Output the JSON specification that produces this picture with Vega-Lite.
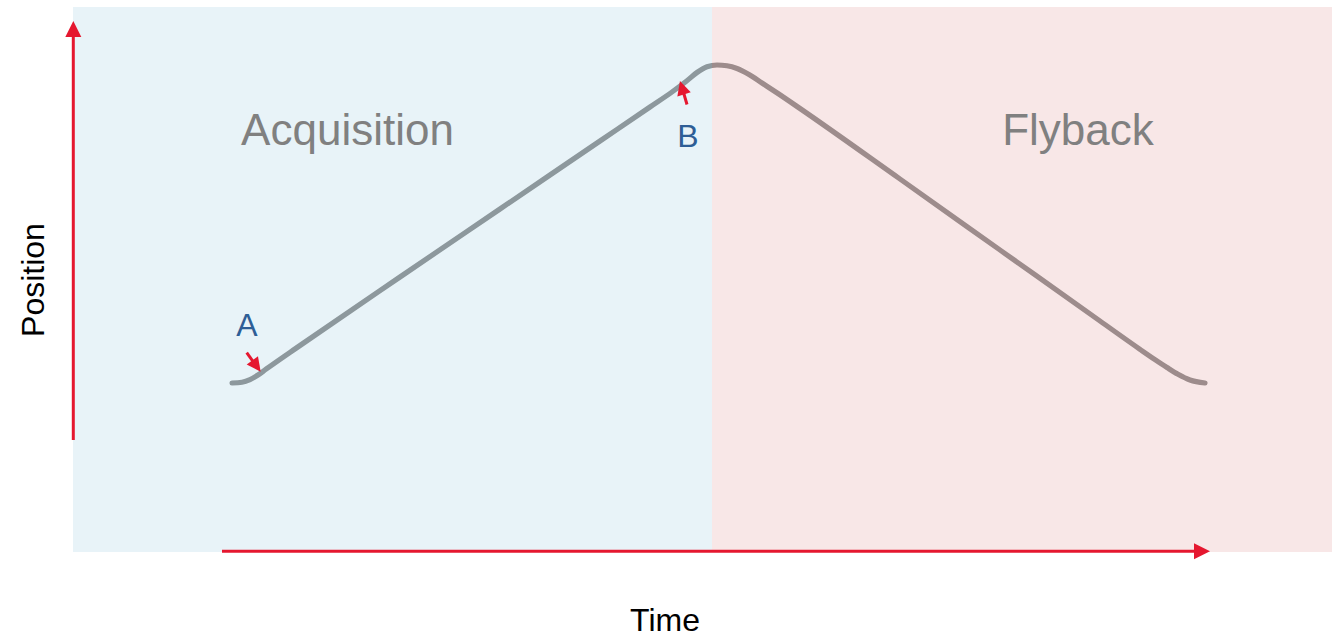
{
  "$schema": "https://vega.github.io/schema/vega-lite/v6.json",
  "width": 1332,
  "height": 637,
  "autosize": {"type": "fit", "contains": "padding"},
  "padding": 0,
  "background": "white",
  "config": {"view": {"stroke": null}, "font": "Liberation Sans"},
  "datasets": {
    "curve": [
      {"t": 232, "pos": 383}, {"t": 242, "pos": 382.2}, {"t": 250, "pos": 379.6}, {"t": 258, "pos": 375}, {"t": 266, "pos": 369.2},
      {"t": 300, "pos": 345.5}, {"t": 400, "pos": 277}, {"t": 500, "pos": 209}, {"t": 600, "pos": 141}, {"t": 650, "pos": 107},
      {"t": 672, "pos": 92}, {"t": 686, "pos": 81.5}, {"t": 697, "pos": 72.5}, {"t": 707, "pos": 66.8}, {"t": 717, "pos": 65},
      {"t": 727, "pos": 65.8}, {"t": 737, "pos": 68.5}, {"t": 749, "pos": 74.5}, {"t": 762, "pos": 83}, {"t": 778, "pos": 93.5},
      {"t": 800, "pos": 108.5}, {"t": 900, "pos": 179}, {"t": 1000, "pos": 250}, {"t": 1100, "pos": 321}, {"t": 1140, "pos": 349.3},
      {"t": 1155, "pos": 359.6}, {"t": 1167, "pos": 367.5}, {"t": 1178, "pos": 374.3}, {"t": 1190, "pos": 380}, {"t": 1205, "pos": 383}
    ],
    "panels": [
      {"phase": "Acquisition", "t0": 73, "t1": 712, "p0": 7, "p1": 552},
      {"phase": "Flyback", "t0": 712, "t1": 1332, "p0": 7, "p1": 552}
    ],
    "shafts": [
      {"id": "yaxis", "t0": 73.3, "p0": 440, "t1": 73.3, "p1": 30},
      {"id": "xaxis", "t0": 222, "p0": 551.3, "t1": 1200, "p1": 551.3},
      {"id": "A", "t0": 246.7, "p0": 352.7, "t1": 256, "p1": 365.5},
      {"id": "B", "t0": 687, "p0": 104.5, "t1": 682.5, "p1": 89}
    ],
    "heads": [
      {"id": "yaxis", "t": 73.3, "p": 29},
      {"id": "xaxis", "t": 1202, "p": 551.3},
      {"id": "A", "t": 256.5, "p": 366.1},
      {"id": "B", "t": 682, "p": 87.7}
    ],
    "phaseLabels": [
      {"label": "Acquisition", "t": 347.5, "p": 145},
      {"label": "Flyback", "t": 1078, "p": 145}
    ],
    "pointLabels": [
      {"label": "A", "t": 247, "p": 336},
      {"label": "B", "t": 688, "p": 147}
    ],
    "axisTitles": [
      {"label": "Time", "t": 665, "p": 631}
    ],
    "yTitle": [
      {"label": "Position", "t": 44, "p": 280}
    ]
  },
  "layer": [
    {
      "data": {"name": "curve"},
      "mark": {"type": "line", "interpolate": "monotone", "color": "#7d7d7d", "strokeWidth": 5.2, "strokeCap": "round", "strokeJoin": "round"},
      "encoding": {
        "x": {"field": "t", "type": "quantitative", "scale": {"domain": [0, 1332], "nice": false, "zero": false}, "axis": null},
        "y": {"field": "pos", "type": "quantitative", "scale": {"domain": [637, 0], "nice": false, "zero": false}, "axis": null}
      }
    },
    {
      "data": {"name": "panels"},
      "mark": {"type": "rect", "opacity": 0.3},
      "encoding": {
        "x": {"field": "t0", "type": "quantitative"},
        "x2": {"field": "t1"},
        "y": {"field": "p0", "type": "quantitative"},
        "y2": {"field": "p1"},
        "color": {"field": "phase", "type": "nominal", "scale": {"domain": ["Acquisition", "Flyback"], "range": ["#b2d7e8", "#e8afaf"]}, "legend": null}
      }
    },
    {
      "data": {"name": "shafts"},
      "mark": {"type": "rule", "color": "#e5172f", "strokeWidth": 3},
      "encoding": {
        "x": {"field": "t0", "type": "quantitative"},
        "x2": {"field": "t1"},
        "y": {"field": "p0", "type": "quantitative"},
        "y2": {"field": "p1"}
      }
    },
    {
      "data": {"name": "heads"},
      "transform": [{"filter": "datum.id === 'yaxis'"}],
      "mark": {"type": "point", "shape": "M0,-1L1,1L-1,1Z", "filled": true, "color": "#e5172f", "opacity": 1, "size": 256, "angle": 0},
      "encoding": {"x": {"field": "t", "type": "quantitative"}, "y": {"field": "p", "type": "quantitative"}}
    },
    {
      "data": {"name": "heads"},
      "transform": [{"filter": "datum.id === 'xaxis'"}],
      "mark": {"type": "point", "shape": "M0,-1L1,1L-1,1Z", "filled": true, "color": "#e5172f", "opacity": 1, "size": 256, "angle": 90},
      "encoding": {"x": {"field": "t", "type": "quantitative"}, "y": {"field": "p", "type": "quantitative"}}
    },
    {
      "data": {"name": "heads"},
      "transform": [{"filter": "datum.id === 'A'"}],
      "mark": {"type": "point", "shape": "M0,-1L1,1L-1,1Z", "filled": true, "color": "#e5172f", "opacity": 1, "size": 196, "angle": 143.6},
      "encoding": {"x": {"field": "t", "type": "quantitative"}, "y": {"field": "p", "type": "quantitative"}}
    },
    {
      "data": {"name": "heads"},
      "transform": [{"filter": "datum.id === 'B'"}],
      "mark": {"type": "point", "shape": "M0,-1L1,1L-1,1Z", "filled": true, "color": "#e5172f", "opacity": 1, "size": 196, "angle": 343},
      "encoding": {"x": {"field": "t", "type": "quantitative"}, "y": {"field": "p", "type": "quantitative"}}
    },
    {
      "data": {"name": "phaseLabels"},
      "mark": {"type": "text", "font": "Liberation Sans", "fontSize": 44, "color": "#808080", "align": "center", "baseline": "alphabetic"},
      "encoding": {"x": {"field": "t", "type": "quantitative"}, "y": {"field": "p", "type": "quantitative"}, "text": {"field": "label"}}
    },
    {
      "data": {"name": "pointLabels"},
      "mark": {"type": "text", "font": "Liberation Sans", "fontSize": 32, "color": "#2e5e96", "align": "center", "baseline": "alphabetic"},
      "encoding": {"x": {"field": "t", "type": "quantitative"}, "y": {"field": "p", "type": "quantitative"}, "text": {"field": "label"}}
    },
    {
      "data": {"name": "axisTitles"},
      "mark": {"type": "text", "font": "Liberation Sans", "fontSize": 32, "color": "#000000", "align": "center", "baseline": "alphabetic"},
      "encoding": {"x": {"field": "t", "type": "quantitative"}, "y": {"field": "p", "type": "quantitative"}, "text": {"field": "label"}}
    },
    {
      "data": {"name": "yTitle"},
      "mark": {"type": "text", "font": "Liberation Sans", "fontSize": 32, "color": "#000000", "align": "center", "baseline": "alphabetic", "angle": 270},
      "encoding": {"x": {"field": "t", "type": "quantitative"}, "y": {"field": "p", "type": "quantitative"}, "text": {"field": "label"}}
    }
  ]
}
